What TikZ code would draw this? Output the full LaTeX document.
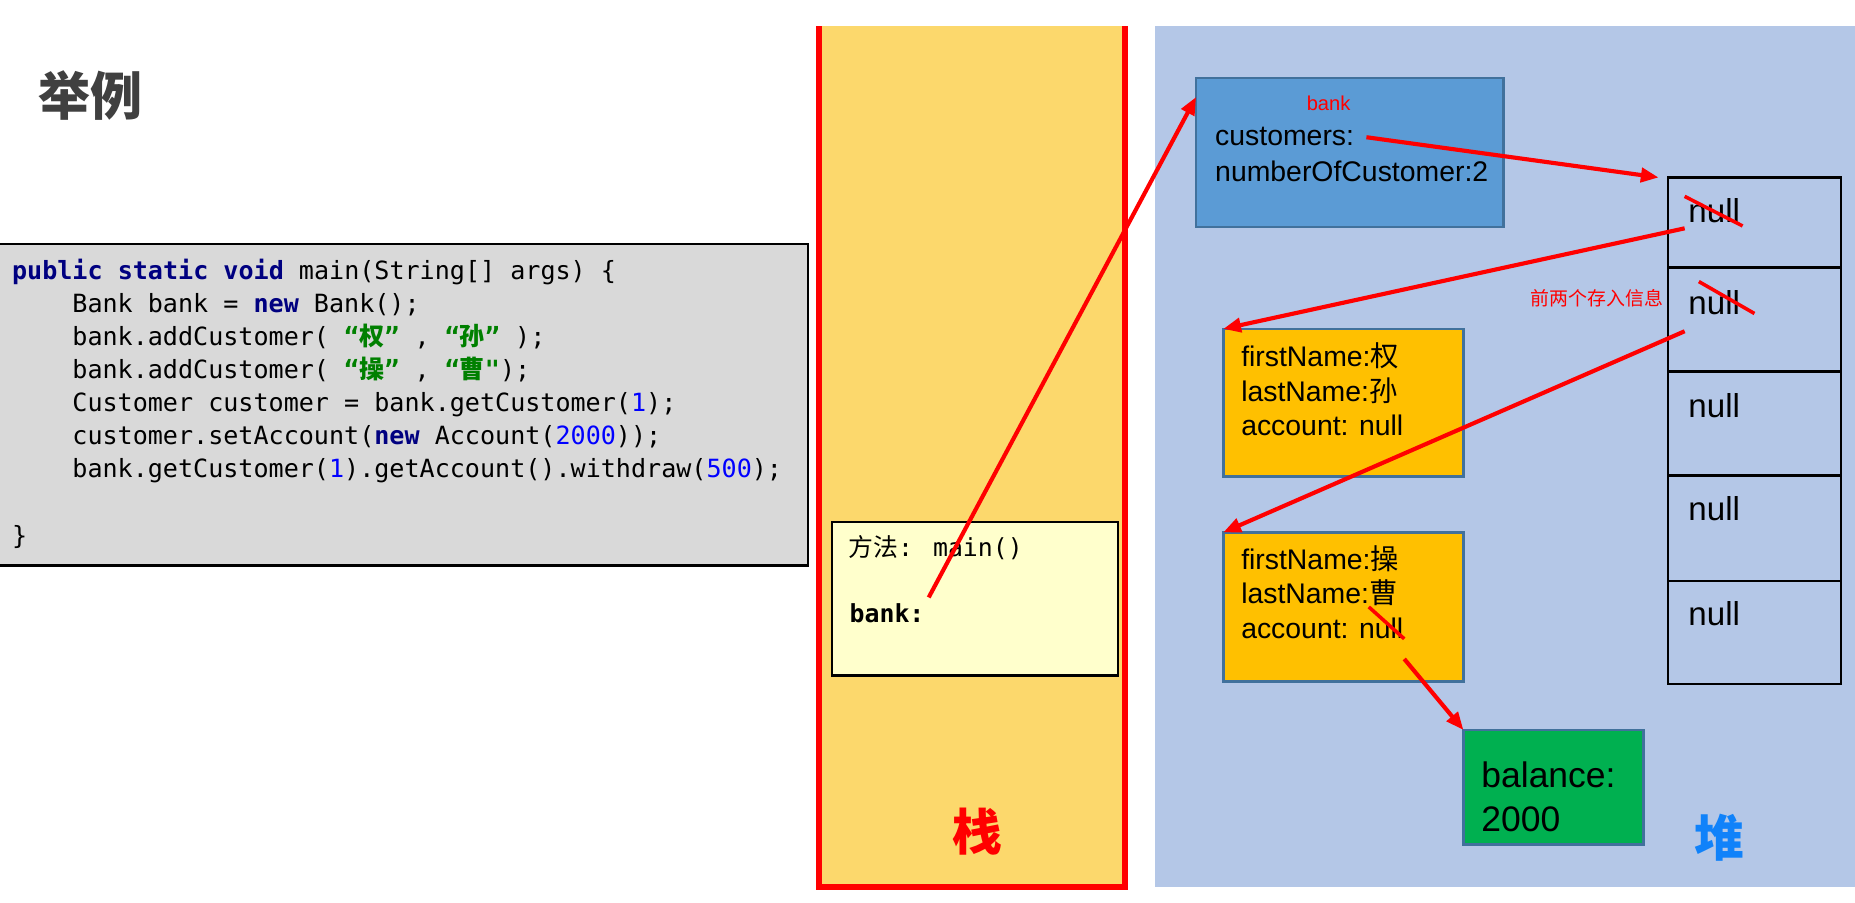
\documentclass[tikz,border=0pt]{standalone}
\usepackage{fontspec}
\setmainfont{Liberation Sans}
\newfontfamily\cjk{Noto Sans CJK SC}
\newfontfamily\codefont{DejaVu Sans Mono}
\usetikzlibrary{arrows.meta,calc}
\definecolor{titlegray}{RGB}{64,64,64}
\definecolor{codegray}{RGB}{217,217,217}
\definecolor{kwblue}{RGB}{0,0,128}
\definecolor{numblue}{RGB}{0,0,255}
\definecolor{codegreen}{RGB}{0,128,0}
\definecolor{stackyellow}{RGB}{252,216,108}
\definecolor{frameyellow}{RGB}{255,255,204}
\definecolor{heapblue}{RGB}{180,199,231}
\definecolor{bankblue}{RGB}{91,155,213}
\definecolor{boxedge}{RGB}{65,113,156}
\definecolor{custorange}{RGB}{255,192,0}
\definecolor{balgreen}{RGB}{0,176,80}
\definecolor{heapword}{RGB}{16,130,250}
\newcommand\codekw[1]{{\bfseries\color{kwblue}#1}}
\newcommand\codenum[1]{{\color{numblue}#1}}
\newcommand\codezh[1]{{\bfseries\color{codegreen}“{\cjk\bfseries #1}”}}
\begin{document}
\begin{tikzpicture}[x=1pt,y=-1pt,
  objbox/.style={draw=boxedge, line width=2.2pt, anchor=north west, inner sep=0pt, outer sep=0pt},
  cell/.style={draw=black, line width=2pt, anchor=north west, inner sep=0pt, outer sep=0pt, minimum width=146pt},
  objtxt/.style={anchor=base west, inner sep=0pt, font=\fontsize{24}{29}\selectfont},
  codetxt/.style={anchor=base west, inner sep=0pt, font=\codefont\fontsize{21.2}{28}\selectfont},
  nulltxt/.style={anchor=base west, inner sep=0pt, font=\fontsize{28}{32}\selectfont},
  ref/.style={draw=red, line width=3.5pt, -{Triangle[length=15pt,width=12pt]}},
  strike/.style={draw=red, line width=3pt},
]
\useasboundingbox (0,0) rectangle (1568,763);

% title
\node[anchor=west, inner sep=0pt, font=\cjk\bfseries\fontsize{44}{44}\selectfont, text=titlegray] (title) at (32,81) {举例};

% code box
\node[draw=black, line width=2pt, fill=codegray, anchor=north west, inner sep=0pt, minimum width=690pt, minimum height=272pt] (codebox) at (-8,205) {};
\node[codetxt] (code1) at (10,236) {\codekw{public} \codekw{static} \codekw{void} main(String[] args) \{};
\node[codetxt] (code2) at (61,264) {Bank bank = \codekw{new} Bank();};
\node[codetxt] (code3) at (61,292) {bank.addCustomer( \codezh{权} , \codezh{孙} );};
\node[codetxt] (code4) at (61,320) {bank.addCustomer( \codezh{操} , {\bfseries\color{codegreen}“{\cjk\bfseries 曹}"});};
\node[codetxt] (code5) at (61,348) {Customer customer = bank.getCustomer(\codenum{1});};
\node[codetxt] (code6) at (61,376) {customer.setAccount(\codekw{new} Account(\codenum{2000}));};
\node[codetxt] (code7) at (61,404) {bank.getCustomer(\codenum{1}).getAccount().withdraw(\codenum{500});};
\node[codetxt] (code9) at (10,460) {\}};

% stack
\fill[stackyellow] (692,22) rectangle (951,750);
\draw[red, line width=5pt] (692,22) -- (692,750) -- (951,750) -- (951,22);
\node[draw=black, line width=2pt, fill=frameyellow, anchor=north west, inner sep=0pt, minimum width=242pt, minimum height=130pt] (frame) at (702,440) {};
\node[anchor=base west, inner sep=0pt, font=\fontsize{21}{24}\selectfont] (method) at (717,470) {{\cjk 方法}{\codefont : main()}};
\node[anchor=base west, inner sep=0pt, font=\codefont\bfseries\fontsize{21}{24}\selectfont] (bankvar) at (718,526) {bank:};
\node[font=\cjk\bfseries\fontsize{42}{42}\selectfont, text=red, inner sep=0pt] (stacklabel) at (826,703) {栈};

% heap
\fill[heapblue] (976,22) rectangle (1568,750);
\node[font=\cjk\bfseries\fontsize{42}{42}\selectfont, text=heapword, inner sep=0pt] (heaplabel) at (1453,708) {堆};

% bank object
\node[objbox, fill=bankblue, minimum width=260pt, minimum height=126pt] (bankobj) at (1011,66) {};
\node[inner sep=0pt, text=red, font=\fontsize{17}{20}\selectfont] (banklabel) at (1123,87) {bank};
\node[objtxt] (customers) at (1027,123) {customers:};
\node[objtxt] (numcust) at (1027,153) {numberOfCustomer:2};

% array
\node[cell, minimum height=76pt] (cell1) at (1410,150) {};
\node[cell, minimum height=88pt] (cell2) at (1410,226) {};
\node[cell, minimum height=88pt] (cell3) at (1410,314) {};
\node[cell, minimum height=89pt] (cell4) at (1410,402) {};
\node[cell, minimum height=87pt] (cell5) at (1410,491) {};
\node[nulltxt] (null1) at (1427,188) {null};
\node[nulltxt] (null2) at (1427,266) {null};
\node[nulltxt] (null3) at (1427,353) {null};
\node[nulltxt] (null4) at (1427,440) {null};
\node[nulltxt] (null5) at (1427,529) {null};
\draw[strike] (1424,166) -- (1473,191);
\draw[strike] (1436,238) -- (1483,265);
\node[inner sep=0pt, text=red, font=\cjk\fontsize{16}{18}\selectfont] (note) at (1350,252) {前两个存入信息};

% customers
\node[objbox, fill=custorange, minimum width=203pt, minimum height=125pt] (cust1) at (1034,278) {};
\node[objtxt] (c1a) at (1049,310) {firstName:{\cjk 权}};
\node[objtxt] (c1b) at (1049,339) {lastName:{\cjk 孙}};
\node[objtxt] (c1c) at (1049,368) {account: null};
\node[objbox, fill=custorange, minimum width=203pt, minimum height=126pt] (cust2) at (1034,450) {};
\node[objtxt] (c2a) at (1049,481) {firstName:{\cjk 操}};
\node[objtxt] (c2b) at (1049,510) {lastName:{\cjk 曹}};
\node[objtxt] (c2c) at (1049,540) {account: null};

% balance
\node[objbox, fill=balgreen, minimum width=152pt, minimum height=97pt] (balance) at (1237,617) {};
\node[anchor=base west, inner sep=0pt, font=\fontsize{30}{36}\selectfont] (bal1) at (1252,666) {balance:};
\node[anchor=base west, inner sep=0pt, font=\fontsize{30}{36}\selectfont] (bal2) at (1252,703) {2000};

% references
\coordinate (bankref) at (785,505);
\coordinate (custref) at (1155,116);
\coordinate (slot1) at (1424,193);
\coordinate (slot2) at (1424,280);
\coordinate (acctref) at (1187,557);
\draw[ref] (bankref) -- ([yshift=-16pt]bankobj.north west);
\draw[ref] (custref) -- ([xshift=-8pt]cell1.north west);
\draw[ref] (slot1) -- (cust1.north west);
\draw[ref] (slot2) -- (cust2.north west);
\draw[strike] (1157,513) -- (1187,540);
\draw[ref] (acctref) -- (balance.north west);
\end{tikzpicture}
\end{document}
